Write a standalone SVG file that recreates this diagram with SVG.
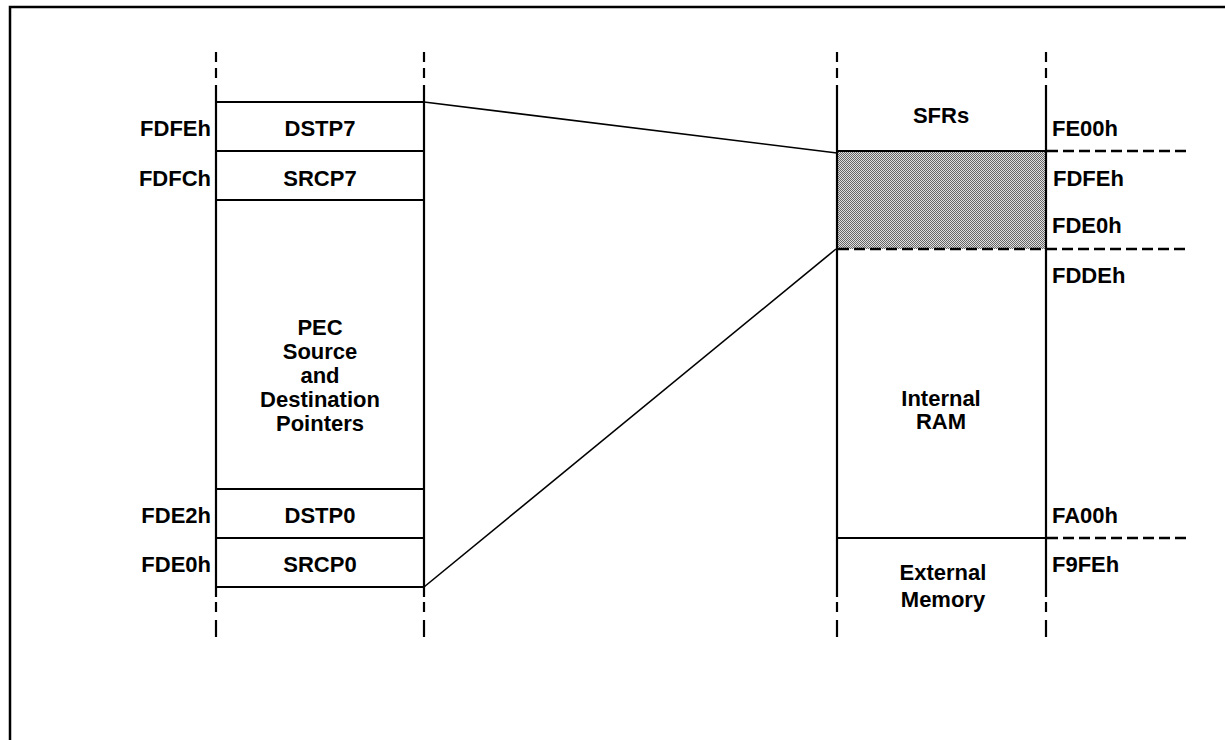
<svg xmlns="http://www.w3.org/2000/svg" width="1225" height="740" viewBox="0 0 1225 740">
  <style>
    .lbl { font-family: "Liberation Sans", Arial, sans-serif; font-weight: bold; font-size: 22px; fill: #000; }
    .mid { text-anchor: middle; }
    .end { text-anchor: end; }
    .solid { stroke: #000; stroke-width: 2.2; fill: none; }
    .dash { stroke: #000; stroke-width: 2.2; fill: none; }
    .hdash { stroke: #000; stroke-width: 2.6; fill: none; stroke-dasharray: 11 5; }
    .link { stroke: #000; stroke-width: 1.6; fill: none; }
  </style>
  <defs>
    <!-- fine checker screen for the PEC pointer area -->
    <pattern id="hatch" width="2" height="2" patternUnits="userSpaceOnUse">
      <rect width="2" height="2" fill="#e0e0e0"/>
      <rect x="0" y="0" width="1" height="1" fill="#666"/>
      <rect x="1" y="1" width="1" height="1" fill="#666"/>
    </pattern>
  </defs>

  <rect width="1225" height="740" fill="#fff"/>
  <!-- outer frame -->
  <rect x="10" y="7" width="1240" height="760" fill="none" stroke="#000" stroke-width="2.5"/>

  <!-- PEC pointer table -->
  <g id="pec-table">
    <line class="dash" x1="216" y1="52" x2="216" y2="62"/>
    <line class="dash" x1="216" y1="68" x2="216" y2="78"/>
    <line class="dash" x1="424" y1="52" x2="424" y2="62"/>
    <line class="dash" x1="424" y1="68" x2="424" y2="78"/>
    <line class="solid" x1="216" y1="85" x2="216" y2="597"/>
    <line class="solid" x1="424" y1="85" x2="424" y2="597"/>
    <line class="dash" x1="216" y1="602" x2="216" y2="612"/>
    <line class="dash" x1="216" y1="620" x2="216" y2="637"/>
    <line class="dash" x1="424" y1="602" x2="424" y2="612"/>
    <line class="dash" x1="424" y1="620" x2="424" y2="637"/>
    <line class="solid" x1="216" y1="102" x2="424" y2="102"/>
    <line class="solid" x1="216" y1="151" x2="424" y2="151"/>
    <line class="solid" x1="216" y1="200" x2="424" y2="200"/>
    <line class="solid" x1="216" y1="489" x2="424" y2="489"/>
    <line class="solid" x1="216" y1="538" x2="424" y2="538"/>
    <line class="solid" x1="216" y1="587" x2="424" y2="587"/>
  </g>

  <g id="dstp7">
    <text class="lbl mid" x="320" y="136">DSTP7</text>
    <text class="lbl end" x="211" y="136">FDFEh</text>
  </g>
  <g id="srcp7">
    <text class="lbl mid" x="320" y="186">SRCP7</text>
    <text class="lbl end" x="211" y="186">FDFCh</text>
  </g>
  <g id="pec-pointers">
    <text class="lbl mid" x="320" y="335">PEC</text>
    <text class="lbl mid" x="320" y="359">Source</text>
    <text class="lbl mid" x="320" y="383">and</text>
    <text class="lbl mid" x="320" y="407">Destination</text>
    <text class="lbl mid" x="320" y="431">Pointers</text>
  </g>
  <g id="dstp0">
    <text class="lbl mid" x="320" y="523">DSTP0</text>
    <text class="lbl end" x="211" y="523">FDE2h</text>
  </g>
  <g id="srcp0">
    <text class="lbl mid" x="320" y="572">SRCP0</text>
    <text class="lbl end" x="211" y="572">FDE0h</text>
  </g>

  <!-- Memory map -->
  <g id="memory-map">
    <rect x="837" y="151" width="209" height="98" fill="url(#hatch)"/>
    <line class="dash" x1="837" y1="52" x2="837" y2="62"/>
    <line class="dash" x1="837" y1="68" x2="837" y2="78"/>
    <line class="dash" x1="1046" y1="52" x2="1046" y2="62"/>
    <line class="dash" x1="1046" y1="68" x2="1046" y2="78"/>
    <line class="solid" x1="837" y1="85" x2="837" y2="597"/>
    <line class="solid" x1="1046" y1="85" x2="1046" y2="597"/>
    <line class="dash" x1="837" y1="602" x2="837" y2="612"/>
    <line class="dash" x1="837" y1="620" x2="837" y2="637"/>
    <line class="dash" x1="1046" y1="602" x2="1046" y2="612"/>
    <line class="dash" x1="1046" y1="620" x2="1046" y2="637"/>
    <line class="solid" x1="837" y1="151" x2="1046" y2="151"/>
    <line class="hdash" x1="1047" y1="151" x2="1186" y2="151"/>
    <line class="hdash" x1="838" y1="249" x2="1186" y2="249"/>
    <line class="solid" x1="837" y1="538" x2="1046" y2="538"/>
    <line class="hdash" x1="1047" y1="538" x2="1186" y2="538"/>
  </g>

  <g id="sfrs">
    <text class="lbl mid" x="941" y="123">SFRs</text>
    <text class="lbl" x="1052" y="136">FE00h</text>
  </g>
  <g id="pec-area">
    <text class="lbl" x="1053" y="186">FDFEh</text>
    <text class="lbl" x="1052" y="233">FDE0h</text>
  </g>
  <g id="internal-ram">
    <text class="lbl mid" x="941" y="406">Internal</text>
    <text class="lbl mid" x="941" y="429">RAM</text>
    <text class="lbl" x="1052" y="283">FDDEh</text>
    <text class="lbl" x="1052" y="523">FA00h</text>
  </g>
  <g id="external-memory">
    <text class="lbl mid" x="943" y="580">External</text>
    <text class="lbl mid" x="943" y="607">Memory</text>
    <text class="lbl" x="1052" y="572">F9FEh</text>
  </g>

  <!-- connectors between table and memory map -->
  <g id="connectors">
    <line class="link" x1="424" y1="102" x2="837" y2="153"/>
    <line class="link" x1="424" y1="587" x2="836" y2="249"/>
  </g>
</svg>
